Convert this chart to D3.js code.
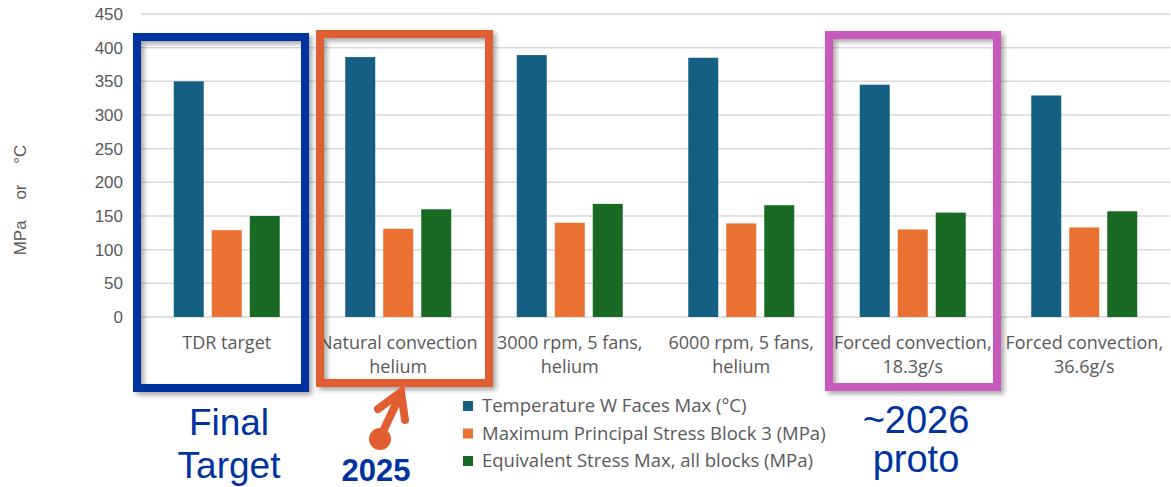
<!DOCTYPE html>
<html>
<head>
<meta charset="utf-8">
<script src="https://d3js.org/d3.v7.min.js"></script>
<style>
  body { margin: 0; background: #fff; }
  .tick-label { font: 17px "Liberation Sans", Arial, sans-serif; fill: #595959; }
  .axis-title { font: 17px "Liberation Sans", Arial, sans-serif; fill: #595959; }
  .cat-label { font: 18px "Open Sans", sans-serif; fill: #595959; }
  .legend text { font: 18.5px "Open Sans", sans-serif; fill: #595959; }
  .grid { stroke: #d9d9d9; stroke-width: 1.5px; }
  .note { font-family: "Liberation Sans", Arial, sans-serif; fill: #0033a0; }
</style>
</head>
<body>
<svg id="chart" width="1171" height="487"></svg>
<script>
// chart data
const categories = [
  "TDR target",
  "Natural convection\nhelium",
  "3000 rpm, 5 fans,\nhelium",
  "6000 rpm, 5 fans,\nhelium",
  "Forced convection,\n18.3g/s",
  "Forced convection,\n36.6g/s"
];
const seriesNames = [
  "Temperature W Faces Max (\u00B0C)",
  "Maximum Principal Stress Block 3 (MPa)",
  "Equivalent Stress Max, all blocks (MPa)"
];
const tempMax = [350, 386, 389, 385, 345, 329];
const principalStress = [129, 131, 140, 139, 130, 133];
const equivStress = [150, 160, 168, 166, 155, 157];
const yTicks = [0, 50, 100, 150, 200, 250, 300, 350, 400, 450];
const colors = ["#156082", "#e97132", "#196b24"];

const series = [tempMax, principalStress, equivStress];

const svg = d3.select("#chart");

// shadow for the highlight frames
const defs = svg.append("defs");
const f = defs.append("filter").attr("id", "shadow")
  .attr("x", "-10%").attr("y", "-10%").attr("width", "130%").attr("height", "130%");
f.append("feDropShadow").attr("dx", 3).attr("dy", 3)
  .attr("stdDeviation", 2.5).attr("flood-color", "#000").attr("flood-opacity", 0.35);

const plotLeft = 141, plotRight = 1170, plotTop = 14, plotBottom = 317;

const x0 = d3.scaleBand().domain(d3.range(categories.length)).range([plotLeft, plotRight]).padding(0);
const x1 = d3.scaleBand().domain(d3.range(series.length)).range([-53, 53]).paddingInner(8 / 38);
const y = d3.scaleLinear().domain([0, 450]).range([plotBottom, plotTop]);

// gridlines
svg.append("g").selectAll("line").data(yTicks).join("line")
  .attr("class", "grid")
  .attr("x1", plotLeft).attr("x2", plotRight)
  .attr("y1", d => y(d)).attr("y2", d => y(d));

// y tick labels
svg.append("g").selectAll("text").data(yTicks).join("text")
  .attr("class", "tick-label")
  .attr("x", 123).attr("y", d => y(d)).attr("dy", "0.35em")
  .attr("text-anchor", "end")
  .text(d => d);

// y title
svg.append("text")
  .attr("class", "axis-title")
  .attr("transform", "translate(20,200) rotate(-90)")
  .attr("text-anchor", "middle")
  .attr("dy", "0.35em")
  .attr("word-spacing", 16)
  .text("MPa or \u00B0C");

// bars
const groups = svg.append("g").selectAll("g").data(categories).join("g")
  .attr("transform", (d, i) => `translate(${x0(i) + x0.bandwidth() / 2},0)`);

groups.selectAll("rect")
  .data((d, i) => series.map((s, k) => ({ k, v: s[i] })))
  .join("rect")
  .attr("x", d => x1(d.k))
  .attr("width", x1.bandwidth())
  .attr("y", d => y(d.v))
  .attr("height", d => y(0) - y(d.v))
  .attr("fill", d => colors[d.k]);

// category labels
groups.append("text")
  .attr("class", "cat-label")
  .attr("text-anchor", "middle")
  .selectAll("tspan")
  .data(d => d.split("\n"))
  .join("tspan")
  .attr("x", 0)
  .attr("y", (d, i) => 349 + i * 24)
  .text(d => d);

// legend
const legend = svg.append("g").attr("class", "legend");
const li = legend.selectAll("g").data(seriesNames).join("g")
  .attr("transform", (d, i) => `translate(463,${406 + i * 27.5})`);
li.append("rect").attr("x", 0).attr("y", -5).attr("width", 10).attr("height", 10)
  .attr("fill", (d, i) => colors[i]);
li.append("text").attr("x", 19).attr("dy", "0.35em").text(d => d);

// highlight frames
const frames = [
  { x: 137, y: 37, w: 168, h: 351, c: "#0033a0" },
  { x: 320, y: 34, w: 169, h: 349, c: "#e05e30" },
  { x: 829, y: 35, w: 168, h: 352, c: "#c85abe" }
];
svg.append("g").selectAll("rect").data(frames).join("rect")
  .attr("x", d => d.x).attr("y", d => d.y)
  .attr("width", d => d.w).attr("height", d => d.h)
  .attr("fill", "none").attr("stroke", d => d.c).attr("stroke-width", 8)
  .attr("filter", "url(#shadow)");

// arrow to the 2025 frame
const arrow = svg.append("g").attr("stroke", "#e05e30").attr("stroke-width", 8)
  .attr("stroke-linecap", "round").attr("fill", "none");
arrow.append("line").attr("x1", 380).attr("y1", 438).attr("x2", 401).attr("y2", 393);
arrow.append("polyline").attr("points", "378,409 401,392 405,420");
svg.append("circle").attr("cx", 380).attr("cy", 439).attr("r", 11).attr("fill", "#e05e30");

// notes
svg.append("text").attr("class", "note").attr("x", 229).attr("y", 435)
  .attr("text-anchor", "middle").attr("font-size", 37).text("Final");
svg.append("text").attr("class", "note").attr("x", 229).attr("y", 478)
  .attr("text-anchor", "middle").attr("font-size", 37).text("Target");
svg.append("text").attr("class", "note").attr("x", 376).attr("y", 481)
  .attr("text-anchor", "middle").attr("font-size", 31).attr("font-weight", "bold").text("2025");
svg.append("text").attr("class", "note").attr("x", 916).attr("y", 433)
  .attr("text-anchor", "middle").attr("font-size", 38).text("~2026");
svg.append("text").attr("class", "note").attr("x", 916).attr("y", 472)
  .attr("text-anchor", "middle").attr("font-size", 38).text("proto");
</script>
</body>
</html>
